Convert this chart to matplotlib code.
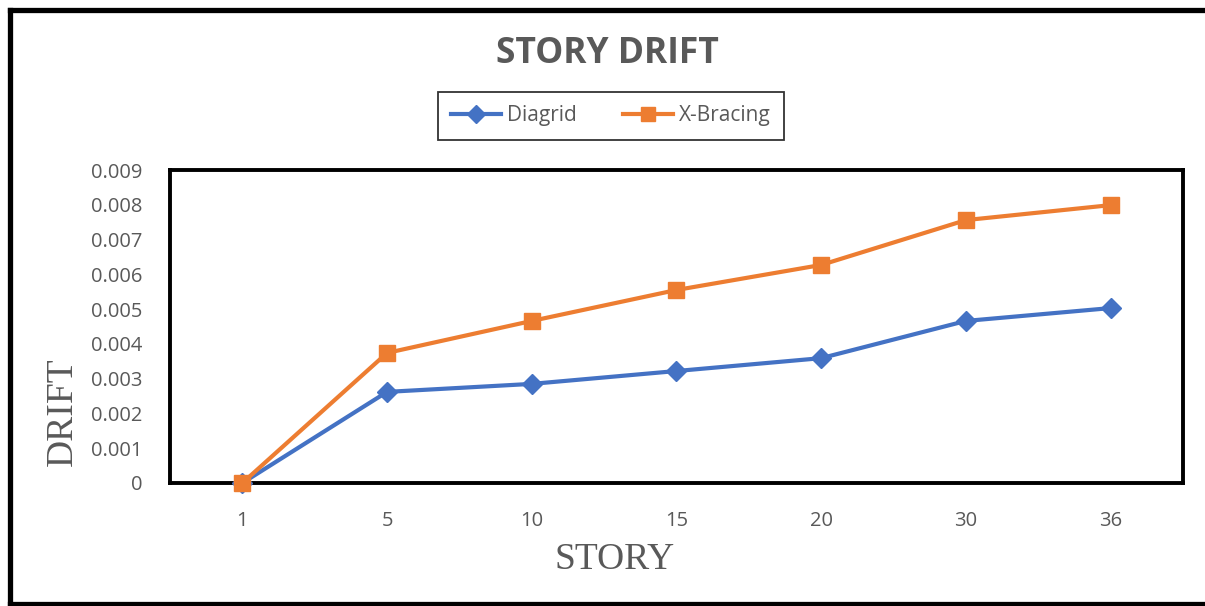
import matplotlib.pyplot as plt
from matplotlib.lines import Line2D

stories = ['1', '5', '10', '15', '20', '30', '36']
diagrid = [0.0, 0.00262, 0.00285, 0.00322, 0.00359, 0.00466, 0.00503]
x_bracing = [0.0, 0.00374, 0.00466, 0.00555, 0.00627, 0.00756, 0.00799]
y_ticks = [0, 0.001, 0.002, 0.003, 0.004, 0.005, 0.006, 0.007, 0.008, 0.009]
y_tick_labels = ['0', '0.001', '0.002', '0.003', '0.004', '0.005', '0.006', '0.007', '0.008', '0.009']

grey = '#595959'
blue = '#4472C4'
orange = '#ED7D31'

W, H = 1205, 606
fig = plt.figure(figsize=(W / 100, H / 100), dpi=100)
fig.patch.set_facecolor('white')

# outer frame (right side runs off the image)
fx = lambda px: px / W
fy = lambda py: 1 - py / H
for xs, ys in [((fx(9.5), fx(9.5)), (fy(9.5), fy(604))),
               ((fx(9.5), 1.01), (fy(9.5), fy(9.5))),
               ((fx(9.5), 1.01), (fy(604), fy(604)))]:
    fig.add_artist(Line2D(xs, ys, transform=fig.transFigure, color='black', lw=3.8))

ax = fig.add_axes([fx(170), fy(483), fx(1183) - fx(170), fy(170) - fy(483)])
x = list(range(len(stories)))
ax.plot(x, diagrid, color=blue, lw=3, marker='D', markersize=10, label='Diagrid',
        zorder=3, clip_on=False)
ax.plot(x, x_bracing, color=orange, lw=3, marker='s', markersize=11, label='X-Bracing',
        zorder=3, clip_on=False)

ax.set_xlim(-0.5, len(stories) - 0.5)
ax.set_ylim(0, 0.009)
ax.set_xticks(x)
ax.set_xticklabels(stories)
ax.set_yticks(y_ticks)
ax.set_yticklabels(y_tick_labels)
for lab in ax.get_xticklabels() + ax.get_yticklabels():
    lab.set_fontfamily('Open Sans')
    lab.set_fontsize(14.5)
    lab.set_color(grey)
ax.tick_params(axis='both', length=0)
ax.tick_params(axis='y', pad=20)
ax.tick_params(axis='x', pad=20)
for sp in ax.spines.values():
    sp.set_linewidth(2.8)
    sp.set_color('black')

fig.text(fx(607), fy(54), 'STORY DRIFT', ha='center', va='center', fontsize=25.5,
         fontweight='bold', family='Open Sans', color=grey)
fig.text(fx(615), fy(560), 'STORY', ha='center', va='center', fontsize=27,
         family='Liberation Serif', color=grey)
fig.text(fx(63), fy(412), 'DRIFT', ha='center', va='center', fontsize=27, rotation=90,
         family='Liberation Serif', color=grey)

leg = fig.legend(loc='center', bbox_to_anchor=(fx(611), fy(116)), ncol=2, frameon=True,
                 fancybox=False, edgecolor='black', handlelength=2.4, columnspacing=2.2,
                 handletextpad=0.3, borderpad=0.65, markerscale=0.9,
                 prop={'family': 'Open Sans', 'size': 15})
leg.get_frame().set_linewidth(1.3)
for t in leg.get_texts():
    t.set_color(grey)

fig.savefig('out.png', dpi=100)
